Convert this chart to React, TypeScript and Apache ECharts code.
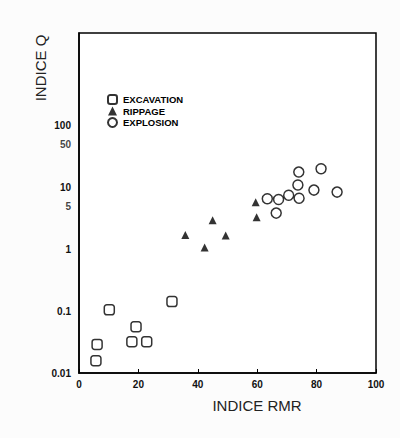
import React, { useEffect, useRef } from "react";
import * as echarts from "echarts";

// Data (x = INDICE RMR, y = INDICE Q)
const excavation: number[][] = [
  [5.7, 0.0158],
  [6.1, 0.029],
  [10.2, 0.105],
  [17.8, 0.032],
  [19.2, 0.056],
  [22.8, 0.032],
  [31.3, 0.143],
];
const rippage: number[][] = [
  [35.8, 1.7],
  [42.3, 1.07],
  [45.0, 2.97],
  [49.4, 1.68],
  [59.5, 5.8],
  [59.8, 3.3],
];
const explosion: number[][] = [
  [63.4, 6.6],
  [67.2, 6.4],
  [66.4, 3.86],
  [70.6, 7.5],
  [74.1, 6.7],
  [73.7, 11.0],
  [74.0, 17.8],
  [79.1, 9.1],
  [81.5, 20.1],
  [86.9, 8.45],
];
const seriesNames = ["EXCAVATION", "RIPPAGE", "EXPLOSION"];
const extraYTicks = [5, 50];
const yMin = 0.01;
const yMax = 3162.28;
const xMin = 0;
const xMax = 100;
const xInterval = 20;

const FONT = "'Liberation Sans', Arial, sans-serif";

export default function App() {
  const ref = useRef<HTMLDivElement>(null);
  useEffect(() => {
    if (!ref.current) return;
    const chart = echarts.init(ref.current, undefined, { renderer: "svg" });
    const labelStyle = {
      fontFamily: FONT,
      fontSize: 10,
      fontWeight: "bold" as const,
      color: "#111",
    };
    const outlined = {
      color: "#fff",
      borderColor: "#000",
      borderWidth: 1.5,
    };
    chart.setOption({
      animation: false,
      backgroundColor: "#fcfcfc",
      grid: {
        left: 79,
        top: 33,
        width: 297,
        height: 340,
        show: true,
        backgroundColor: "#fff",
        borderColor: "#000",
        borderWidth: 1.5,
      },
      legend: {
        data: seriesNames,
        orient: "vertical",
        left: 107,
        top: 94,
        padding: 0,
        itemWidth: 9,
        itemHeight: 9,
        itemGap: 1,
        selectedMode: false,
        textStyle: {
          fontFamily: FONT,
          fontSize: 9.5,
          lineHeight: 9,
          fontWeight: "bold",
          color: "#000",
          padding: [0, 0, 0, 1],
        },
      },
      xAxis: {
        type: "value",
        min: xMin,
        max: xMax,
        interval: xInterval,
        name: "INDICE RMR",
        nameLocation: "middle",
        nameGap: 25,
        nameMoveOverlap: false,
        nameTextStyle: {
          fontFamily: FONT,
          fontSize: 15,
          color: "#222",
          padding: [0, 0, 0, 59],
        },
        axisLine: { show: true, lineStyle: { color: "#000", width: 1.5 } },
        axisTick: { show: true, inside: true, length: 4, lineStyle: { color: "#000" } },
        splitLine: { show: false },
        axisLabel: { ...labelStyle, margin: 6 },
      },
      yAxis: {
        type: "log",
        logBase: 10,
        min: yMin,
        max: yMax,
        name: "INDICE Q",
        nameLocation: "middle",
        nameGap: 31,
        nameMoveOverlap: false,
        nameRotate: 90,
        nameTextStyle: {
          fontFamily: FONT,
          fontSize: 15,
          color: "#222",
          padding: [0, 0, 0, 270],
        },
        axisLine: { show: true, lineStyle: { color: "#000", width: 1.5 } },
        axisTick: { show: false },
        splitLine: { show: false },
        axisLabel: {
          ...labelStyle,
          margin: 8,
          formatter: (v: number) => (v >= 1000 ? "" : String(+v.toPrecision(3))),
        },
      },
      series: [
        {
          name: seriesNames[0],
          type: "scatter",
          symbol: "roundRect",
          symbolSize: 10,
          itemStyle: outlined,
          data: excavation,
        },
        {
          name: seriesNames[1],
          type: "scatter",
          symbol: "triangle",
          symbolSize: 8,
          itemStyle: { color: "#000" },
          data: rippage,
        },
        {
          name: seriesNames[2],
          type: "scatter",
          symbol: "circle",
          symbolSize: 10,
          itemStyle: outlined,
          data: explosion,
        },
        {
          name: "ticks",
          type: "scatter",
          symbolSize: 0,
          silent: true,
          data: extraYTicks.map((v) => [xMin, v]),
          label: {
            show: true,
            position: "left",
            distance: 8,
            ...labelStyle,
            formatter: (p: any) => String(p.value[1]),
          },
        },
      ],
    });
    return () => chart.dispose();
  }, []);
  return (
    <div
      ref={ref}
      style={{ position: "fixed", left: 0, top: 0, width: 400, height: 438 }}
    />
  );
}
